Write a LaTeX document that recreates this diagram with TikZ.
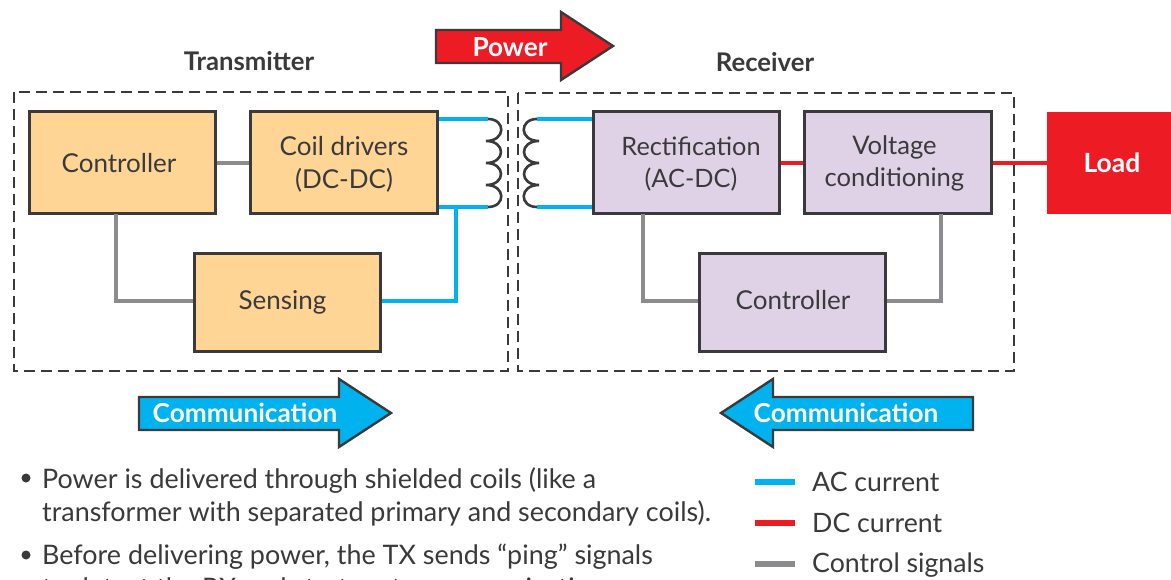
\documentclass[tikz,border=0pt]{standalone}
\usepackage{fontspec}
\setmainfont{Lato}
\usetikzlibrary{positioning,calc}
\definecolor{txo}{HTML}{FFD596}
\definecolor{rxp}{HTML}{E0D2E6}
\definecolor{acb}{HTML}{00B2EE}
\definecolor{dcr}{HTML}{ED1C24}
\definecolor{ctl}{HTML}{8C8C8E}
\definecolor{ink}{HTML}{3A3A3C}
\tikzset{
 x=1pt,y=-1pt,
 blk/.style={draw=ink,line width=3pt,minimum width=#1,minimum height=102pt,inner sep=0pt},
 txb/.style={blk=#1,fill=txo},
 rxb/.style={blk=#1,fill=rxp},
 tl/.style={align=center,inner sep=0pt,font=\fontsize{26}{33}\selectfont,text=ink},
 group/.style={draw=ink,line width=2.6pt,dash pattern=on 11pt off 6pt},
 ac/.style={acb,line width=4pt},
 dc/.style={dcr,line width=3.6pt},
 ctrl/.style={ctl,line width=3.6pt},
 coil/.style={draw=ink,line width=2.6pt},
 hdr/.style={font=\fontsize{25.7}{30}\selectfont\bfseries,text=ink},
 arrowtxt/.style={font=\fontsize{26.2}{30}\selectfont\bfseries,text=white},
 arrowshape/.style={draw=ink,line width=2.4pt,miter limit=10},
 body/.style={anchor=base west,inner sep=0pt,font=\fontsize{26.9}{30}\selectfont,text=ink},
 legend/.style={anchor=west,inner sep=0pt,font=\fontsize{26.7}{30}\selectfont,text=ink},
}
\begin{document}
\begin{tikzpicture}
\useasboundingbox (0,0) rectangle (1171,580);
\fill[white] (0,0) rectangle (1171,580);
% groups
\draw[group] (14,92) rectangle (508,371);
\draw[group] (518,93) rectangle (1014,371);
% coordinates for terminals
\coordinate (t1) at (488,119);
\coordinate (t2) at (488,207);
\coordinate (r1) at (537,119);
\coordinate (r2) at (537,207);
\coordinate (sj) at (456,207);
% boxes
\node[txb=186pt,label={[tl,xshift=-3pt]center:Controller}] (ctlT) at (122,163) {};
\node[txb=187pt,label={[tl,yshift=-1pt]center:Coil drivers\\(DC-DC)}] (drv) at (344,163) {};
\node[txb=186pt,minimum height=97pt,label={[tl,xshift=-5pt,yshift=0.5pt]center:Sensing}] (sen) at (287.5,302.5) {};
\node[rxb=186pt,label={[tl,xshift=5pt,yshift=-1.5pt,font=\fontsize{25.3}{32}\selectfont]center:Rectification\\(AC-DC)}] (rec) at (686,163) {};
\node[rxb=187pt,label={[tl,xshift=-3.5pt,font=\fontsize{25.6}{32}\selectfont]center:Voltage\\conditioning}] (vol) at (898,163) {};
\node[rxb=186pt,minimum height=97pt,label={[tl,xshift=0.5pt,yshift=2.5pt]center:Controller}] (ctlR) at (792.5,302.5) {};
\node[fill=dcr,minimum width=124pt,minimum height=102pt,inner sep=0pt,label={[xshift=3pt,inner sep=0pt,text=white,font=\fontsize{26.5}{30}\selectfont\bfseries]center:Load}] (load) at (1109,163) {};
% transmitter links
\draw[ctrl] (ctlT.east) -- (drv.west);
\draw[ctrl] (116,214) -- (116,301) -- (sen.west |- 0,301);
\draw[ac] (drv.east |- t1) -- (t1);
\draw[ac] (drv.east |- t2) -- (t2);
\draw[ac] (sen.east |- 0,301) -- (456,301) -- (sj);
% receiver links
\draw[ac] (r1) -- (rec.west |- r1);
\draw[ac] (r2) -- (rec.west |- r2);
\draw[dc] (rec.east) -- (vol.west);
\draw[dc] (vol.east) -- (load.west);
\draw[ctrl] (643,214) -- (643,301) -- (ctlR.west |- 0,301);
\draw[ctrl] (ctlR.east |- 0,301) -- (941,301) -- (941,214);
% coils
\draw[coil] (t1) .. controls (506,119) and (506,141) .. (486,141)
            .. controls (506,141) and (506,163) .. (486,163)
            .. controls (506,163) and (506,185) .. (486,185)
            .. controls (506,185) and (506,207) .. (t2);
\draw[coil] (r1) .. controls (519,119) and (519,141) .. (539,141)
            .. controls (519,141) and (519,163) .. (539,163)
            .. controls (519,163) and (519,185) .. (539,185)
            .. controls (519,185) and (519,207) .. (r2);
% headers
\node[hdr] (htx) at (249,61) {Transmitter};
\node[hdr] (hrx) at (765,62) {Receiver};
% block arrows
\draw[arrowshape,fill=dcr] (436,30) -- (561,30) -- (561,12) -- (613,46) -- (561,80) -- (561,63) -- (436,63) -- cycle;
\node[arrowtxt] (pw) at (510,47) {Power};
\draw[arrowshape,fill=acb] (139,397) -- (339,397) -- (339,379) -- (391,413) -- (339,447) -- (339,430) -- (139,430) -- cycle;
\node[arrowtxt] (cm1) at (245,413) {Communication};
\draw[arrowshape,fill=acb] (973,397) -- (773,397) -- (773,379) -- (721,413) -- (773,447) -- (773,430) -- (973,430) -- cycle;
\node[arrowtxt] (cm2) at (846,413) {Communication};
% body text
\node[circle,fill=ink,minimum size=9pt,inner sep=0pt] (b0) at (26,478) {};
\node[body] (b1) at (42,488) {Power is delivered through shielded coils (like a};
\node[body] (b2) at (42,521) {transformer with separated primary and secondary coils).};
\node[circle,fill=ink,minimum size=9pt,inner sep=0pt] (b3) at (26,555) {};
\node[body] (b4) at (42,564) {Before delivering power, the TX sends “ping” signals};
\node[body] (b5) at (42,597) {to detect the RX and start up to communication};
% legend
\coordinate (l1a) at (755,482); \coordinate (l1b) at (795,482);
\coordinate (l2a) at (755,523); \coordinate (l2b) at (795,523);
\coordinate (l3a) at (755,564); \coordinate (l3b) at (795,564);
\draw[acb,line width=5.5pt] (l1a) -- (l1b);
\draw[dcr,line width=5.5pt] (l2a) -- (l2b);
\draw[ctl,line width=5.5pt] (l3a) -- (l3b);
\node[legend] (lg1) at (812,482) {AC current};
\node[legend] (lg2) at (812,523) {DC current};
\node[legend] (lg3) at (812,565.5) {Control signals};
\end{tikzpicture}
\end{document}
